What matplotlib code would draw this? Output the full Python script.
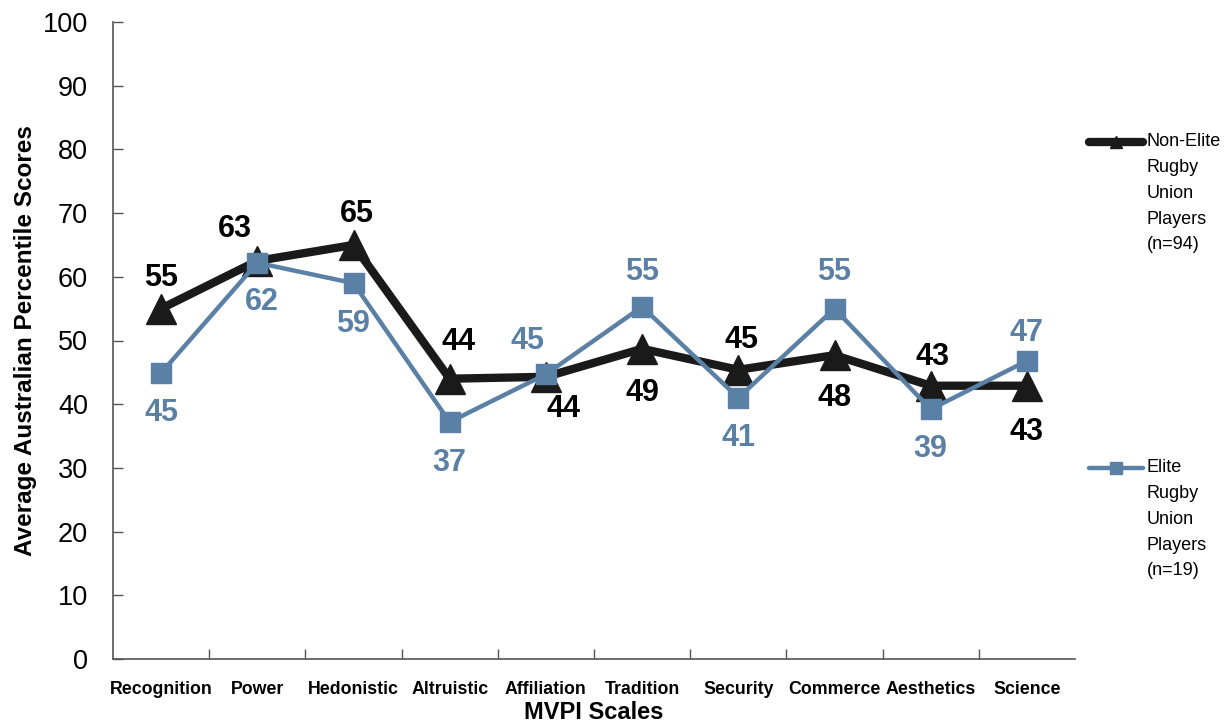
import matplotlib
matplotlib.use("Agg")
import matplotlib.pyplot as plt
from matplotlib.lines import Line2D

plt.rcParams['font.family'] = ['Liberation Sans', 'DejaVu Sans']

categories = ["Recognition", "Power", "Hedonistic", "Altruistic", "Affiliation",
              "Tradition", "Security", "Commerce", "Aesthetics", "Science"]
non_elite = [55.0, 62.5, 65.0, 44.0, 44.3, 48.7, 45.4, 47.7, 42.9, 42.9]
elite = [44.9, 62.2, 59.0, 37.2, 44.7, 55.3, 41.0, 55.0, 39.2, 46.8]
non_elite_labels = ["55", "63", "65", "44", "44", "49", "45", "48", "43", "43"]
elite_labels = ["45", "62", "59", "37", "45", "55", "41", "55", "39", "47"]
legend_non_elite = "Non-Elite\nRugby\nUnion\nPlayers\n(n=94)"
legend_elite = "Elite\nRugby\nUnion\nPlayers\n(n=19)"

# label offsets in pixels (dx, dy) -- styling only
ne_off = [(0, 31), (-22, 32), (3, 31), (9, 37), (18, -32), (0, -44), (3, 30), (0, -43), (2, 29), (0, -46)]
el_off = [(0, -40), (5, -39), (0, -41), (0, -41), (-18, 33), (0, 35), (0, -40), (0, 37), (0, -40), (0, 28)]

BLACK = "#1a1a1a"
BLUE = "#5b80a5"

fig = plt.figure(figsize=(12.28, 7.27), dpi=100)
ax = fig.add_axes([113 / 1228, 1 - 659 / 727, (1075 - 113) / 1228, (659 - 22) / 727])

x = list(range(len(categories)))
ax.plot(x, non_elite, color=BLACK, lw=6, marker="^", ms=21, mfc=BLACK, mec=BLACK,
        solid_joinstyle="miter", zorder=3)
ax.plot(x, elite, color=BLUE, lw=3.2, marker="s", ms=14.5, mfc=BLUE, mec=BLUE, zorder=4)

px2pt = 72 / 100
for i in x:
    dx, dy = ne_off[i]
    ax.annotate(non_elite_labels[i], (i, non_elite[i]), xytext=(dx * px2pt, dy * px2pt),
                textcoords="offset points", ha="center", va="center",
                fontsize=22, fontweight="bold", color="black", zorder=6)
    dx, dy = el_off[i]
    ax.annotate(elite_labels[i], (i, elite[i]), xytext=(dx * px2pt, dy * px2pt),
                textcoords="offset points", ha="center", va="center",
                fontsize=22, fontweight="bold", color=BLUE, zorder=6)

ax.set_xlim(-0.5, 9.5)
ax.set_ylim(0, 100)
ax.set_yticks(range(0, 101, 10))
ax.tick_params(axis="y", direction="in", length=7, width=1, color="#555555",
               labelsize=19.5, pad=18)
ax.set_xticks([i + 0.5 for i in range(len(categories) - 1)])
ax.set_xticklabels([])
ax.set_xticks(x, minor=True)
ax.set_xticklabels(categories, minor=True, fontsize=12.8, fontweight="bold")
ax.tick_params(axis="x", which="major", direction="in", length=7, width=1, color="#555555")
ax.tick_params(axis="x", which="minor", length=0, pad=16)
for s in ["top", "right"]:
    ax.spines[s].set_visible(False)
for s in ["left", "bottom"]:
    ax.spines[s].set_color("#555555")
    ax.spines[s].set_linewidth(1.2)

ax.set_ylabel("Average Australian Percentile Scores", fontsize=17.5, fontweight="bold", labelpad=4)
ax.set_xlabel("MVPI Scales", fontsize=17, fontweight="bold", labelpad=2)

# manual legend
W, H = 1228, 727
def fx(px): return px / W
def fy(py): return 1 - py / H

fig.add_artist(Line2D([fx(1089), fx(1143)], [fy(142), fy(142)], color=BLACK, lw=6,
                      solid_capstyle="round"))
fig.add_artist(Line2D([fx(1116)], [fy(142)], color=BLACK, marker="^", ms=8, mfc=BLACK, mec=BLACK))
fig.text(fx(1147), fy(133), legend_non_elite, fontsize=13, va="top", ha="left",
         linespacing=1.68)
fig.add_artist(Line2D([fx(1089), fx(1143)], [fy(468), fy(468)], color=BLUE, lw=3.2,
                      solid_capstyle="round"))
fig.add_artist(Line2D([fx(1116)], [fy(468)], color=BLUE, marker="s", ms=8, mfc=BLUE, mec=BLUE))
fig.text(fx(1147), fy(459), legend_elite, fontsize=13, va="top", ha="left",
         linespacing=1.68)

fig.savefig("out.png", dpi=100)
